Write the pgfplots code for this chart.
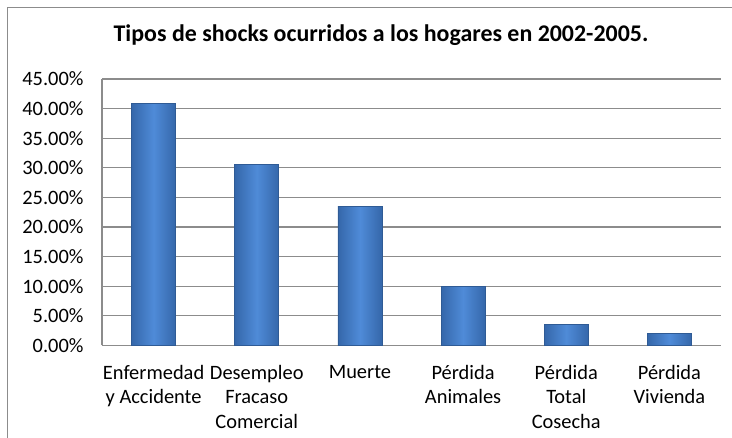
\documentclass[border=0pt]{standalone}
\usepackage{fontspec}
\setmainfont{Carlito}
\usepackage{pgfplots}
\pgfplotsset{compat=1.18}
\definecolor{barmid}{HTML}{4F8BD8}
\definecolor{baredge}{HTML}{3567AA}
\definecolor{barline}{HTML}{2F5B95}
\definecolor{gridgray}{HTML}{8C8C8C}
\begin{document}
\begin{tikzpicture}
\useasboundingbox (0,0) rectangle (732bp,438bp);
\clip (0,0) rectangle (732bp,438bp);
% chart frame
\draw[gridgray, line width=1.2bp] (7.5bp,-20bp) rectangle (760bp,430.5bp);
\node[font=\fontsize{24}{28}\selectfont\bfseries] at (381bp,403bp)
  {Tipos de shocks ocurridos a los hogares en 2002-2005.};
\begin{axis}[
    at={(102bp,92.5bp)}, anchor=south west,
    scale only axis, width=619bp, height=266.5bp,
    xmin=-0.5, xmax=5.5, ymin=0, ymax=45,
    ytick={0,5,...,45},
    xtick={0,1,2,3,4,5},
    xticklabels={Enfermedad\\y Accidente, Desempleo\\Fracaso\\Comercial, Muerte,
                 Pérdida\\Animales, Pérdida\\Total\\Cosecha, Pérdida\\Vivienda},
    axis x line*=bottom, axis y line*=left,
    axis line style={gridgray, line width=1.2bp, -},
    major tick length=0pt,
    ymajorgrids, grid style={gridgray, line width=1.2bp},
    /pgf/number format/assume math mode=true,
    yticklabel={\pgfmathprintnumber[fixed,fixed zerofill,precision=2]{\tick}\%},
    yticklabel style={font=\fontsize{20.5}{24}\selectfont, xshift=-15bp},
    xticklabel style={font=\fontsize{20.5}{24.8}\selectfont, align=center, yshift=-16bp},
    ybar, bar width=44bp, bar shift=0pt,
    shbar/.style={draw=barline, line width=0.8bp,
        left color=baredge, right color=baredge, middle color=barmid},
]
% one bar per plot so each bar gets its own shading
\addplot[shbar] coordinates {(0,40.9)};
\addplot[shbar] coordinates {(1,30.5)};
\addplot[shbar] coordinates {(2,23.5)};
\addplot[shbar] coordinates {(3,9.9)};
\addplot[shbar] coordinates {(4,3.6)};
\addplot[shbar] coordinates {(5,2.1)};
\end{axis}
\end{tikzpicture}
\end{document}
